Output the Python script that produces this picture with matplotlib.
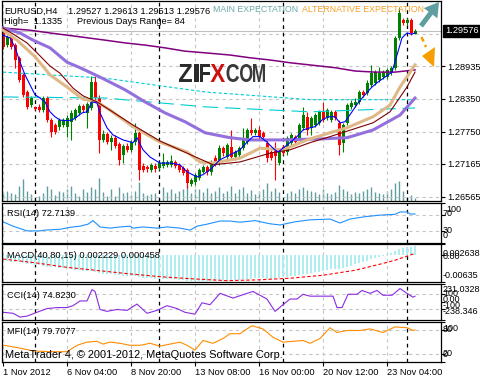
import matplotlib
matplotlib.use('Agg')
import matplotlib.pyplot as plt
import numpy as np
import matplotlib.transforms as mtransforms
from matplotlib.patches import Polygon, FancyArrow, PathPatch
from matplotlib.textpath import TextPath
from matplotlib.font_manager import FontProperties

plt.rcParams['font.family'] = ['Liberation Sans', 'DejaVu Sans']

# EURUSD H4 bars, bar 0 = 1 Nov 2012 16:00 (Sunday bars included)
opens = [1.2963, 1.2932, 1.2947, 1.2932, 1.2909, 1.2878, 1.2847, 1.2823, 1.2820, 1.2820,
         1.2814, 1.2836, 1.2796, 1.2787, 1.2784, 1.2787, 1.2784, 1.2793, 1.2800, 1.2809,
         1.2822, 1.2809, 1.2818, 1.2865, 1.2836, 1.2760, 1.2771, 1.2756, 1.2764, 1.2753,
         1.2733, 1.2749, 1.2742, 1.2756, 1.2773, 1.2713, 1.2711, 1.2706, 1.2713, 1.2709,
         1.2713, 1.2715, 1.2715, 1.2720, 1.2715, 1.2709, 1.2706, 1.2680, 1.2684, 1.2691,
         1.2702, 1.2711, 1.2702, 1.2727, 1.2720, 1.2745, 1.2729, 1.2747, 1.2729, 1.2733,
         1.2745, 1.2756, 1.2778, 1.2773, 1.2778, 1.2773, 1.2755, 1.2738, 1.2742, 1.2718,
         1.2747, 1.2738, 1.2755, 1.2766, 1.2764, 1.2782, 1.2802, 1.2782, 1.2787, 1.2791,
         1.2811, 1.2800, 1.2796, 1.2811, 1.2791, 1.2755, 1.2791, 1.2820, 1.2823, 1.2829,
         1.2847, 1.2845, 1.2860, 1.2863, 1.2869, 1.2874, 1.2874, 1.2881, 1.2891, 1.2945,
         1.2978, 1.2972, 1.2978, 1.29527]
highs = [1.2967, 1.2950, 1.2950, 1.2936, 1.2912, 1.2881, 1.2851, 1.2840, 1.2822, 1.2825,
         1.2840, 1.2840, 1.2800, 1.2791, 1.2800, 1.2800, 1.2805, 1.2814, 1.2818, 1.2825,
         1.2825, 1.2829, 1.2876, 1.2876, 1.2842, 1.2778, 1.2775, 1.2769, 1.2769, 1.2756,
         1.2753, 1.2755, 1.2760, 1.2791, 1.2778, 1.2718, 1.2715, 1.2718, 1.2718, 1.2720,
         1.2736, 1.2724, 1.2733, 1.2724, 1.2718, 1.2713, 1.2709, 1.2691, 1.2700, 1.2709,
         1.2715, 1.2715, 1.2724, 1.2733, 1.2751, 1.2749, 1.2755, 1.2778, 1.2742, 1.2749,
         1.2782, 1.2782, 1.2800, 1.2782, 1.2786, 1.2776, 1.2760, 1.2742, 1.2756, 1.2742,
         1.2751, 1.2767, 1.2773, 1.2769, 1.2791, 1.2820, 1.2811, 1.2804, 1.2809, 1.2814,
         1.2829, 1.2818, 1.2814, 1.2814, 1.2796, 1.2791, 1.2827, 1.2833, 1.2836, 1.2851,
         1.2851, 1.2869, 1.2896, 1.2887, 1.2892, 1.2887, 1.2891, 1.2894, 1.2949, 1.3001,
         1.2981, 1.2981, 1.2981, 1.29613]
lows = [1.2925, 1.2928, 1.2925, 1.2891, 1.2865, 1.2838, 1.2816, 1.2820, 1.2814, 1.2811,
        1.2811, 1.2793, 1.2766, 1.2771, 1.2778, 1.2784, 1.2766, 1.2760, 1.2796, 1.2805,
        1.2811, 1.2782, 1.2814, 1.2833, 1.2736, 1.2756, 1.2753, 1.2742, 1.2745, 1.2715,
        1.2718, 1.2738, 1.2738, 1.2751, 1.2688, 1.2702, 1.2702, 1.2702, 1.2702, 1.2706,
        1.2709, 1.2711, 1.2711, 1.2709, 1.2702, 1.2697, 1.2673, 1.2677, 1.2678, 1.2688,
        1.2700, 1.2697, 1.2697, 1.2713, 1.2715, 1.2731, 1.2724, 1.2724, 1.2724, 1.2729,
        1.2742, 1.2753, 1.2769, 1.2769, 1.2760, 1.2762, 1.2720, 1.2724, 1.2688, 1.2715,
        1.2733, 1.2733, 1.2751, 1.2753, 1.2760, 1.2778, 1.2769, 1.2769, 1.2784, 1.2787,
        1.2793, 1.2796, 1.2793, 1.2796, 1.2733, 1.2738, 1.2787, 1.2816, 1.2820, 1.2825,
        1.2838, 1.2842, 1.2856, 1.2860, 1.2865, 1.2871, 1.2871, 1.2878, 1.2887, 1.2941,
        1.2969, 1.2969, 1.2950, 1.29513]
closes = [1.2928, 1.2947, 1.2928, 1.2905, 1.2869, 1.2842, 1.2820, 1.2836, 1.2816, 1.2814,
          1.2836, 1.2796, 1.2775, 1.2775, 1.2796, 1.2796, 1.2800, 1.2809, 1.2814, 1.2822,
          1.2814, 1.2825, 1.2865, 1.2836, 1.2760, 1.2771, 1.2756, 1.2764, 1.2749, 1.2724,
          1.2749, 1.2742, 1.2756, 1.2773, 1.2706, 1.2706, 1.2707, 1.2715, 1.2707, 1.2718,
          1.2720, 1.2720, 1.2722, 1.2713, 1.2706, 1.2700, 1.2682, 1.2688, 1.2697, 1.2706,
          1.2711, 1.2702, 1.2720, 1.2718, 1.2745, 1.2736, 1.2751, 1.2729, 1.2738, 1.2745,
          1.2764, 1.2778, 1.2773, 1.2778, 1.2766, 1.2766, 1.2727, 1.2727, 1.2731, 1.2738,
          1.2736, 1.2764, 1.2769, 1.2756, 1.2787, 1.2805, 1.2778, 1.2800, 1.2805, 1.2811,
          1.2796, 1.2814, 1.2811, 1.2800, 1.2751, 1.2787, 1.2823, 1.2827, 1.2829, 1.2847,
          1.2842, 1.2863, 1.2881, 1.2883, 1.2881, 1.2883, 1.2887, 1.2891, 1.2945, 1.2990,
          1.2972, 1.2978, 1.2954, 1.29576]
volumes = [2000, 2500, 2000, 1750, 3750, 5500, 2500, 1750, 500, 1250,
           2000, 3750, 3000, 1500, 2500, 2250, 3000, 3750, 2000, 1250,
           3000, 2250, 3500, 3000, 5750, 2250, 1250, 3000, 1250, 3500,
           2000, 2250, 1500, 2500, 4750, 2000, 1500, 1750, 2000, 750,
           3500, 2250, 3000, 2000, 2500, 3000, 4000, 2000, 3000, 3000,
           2250, 3250, 2000, 2500, 3500, 2000, 2500, 3750, 2000, 3000,
           3500, 2000, 2750, 1750, 2500, 3000, 4500, 2500, 3250, 2250,
           500, 2000, 2500, 2000, 3000, 3500, 2750, 2500, 2250, 1750,
           3000, 2000, 1750, 2250, 4000, 3000, 2500, 1750, 2250, 2000,
           2500, 3000, 3500, 2250, 2000, 1750, 2500, 3000, 4500, 5000,
           2500, 1000, 1500, 750]

# moving averages (bar position, price)
blue_bar = [0, 1.75, 3, 4.25, 5.5, 6.75, 8, 9.25, 10.5, 11.75, 13, 14.25, 16, 17.25, 18.5, 19.75,
            21, 22.25, 23.5, 24.25, 26, 27.5, 30, 32.5, 33.5, 35, 36.75, 39.25, 41.75, 44.25, 46,
            48.5, 50, 51.75, 54.25, 56.75, 59.25, 61, 62.5, 64.25, 66, 67.5, 68.75, 70, 71.75,
            73.5, 75, 76.75, 78, 79.75, 81.25, 83, 84.25, 85.5, 87.25, 88.75, 90.5, 92.25, 93.75,
            95.5, 97.25, 98.5, 99.75, 101, 102.25, 103]
blue_val = [1.2950, 1.2945, 1.2928, 1.2901, 1.2878, 1.2860, 1.2842, 1.2836, 1.2829, 1.2811, 1.2802,
            1.2796, 1.2795, 1.2796, 1.2802, 1.2809, 1.2811, 1.2829, 1.2827, 1.2809, 1.2782, 1.2769,
            1.2760, 1.2755, 1.2764, 1.2742, 1.2729, 1.2718, 1.2718, 1.2715, 1.2702, 1.2693, 1.2697,
            1.2706, 1.2724, 1.2733, 1.2742, 1.2756, 1.2766, 1.2766, 1.2756, 1.2745, 1.2738, 1.2745,
            1.2755, 1.2766, 1.2778, 1.2782, 1.2784, 1.2796, 1.2802, 1.2802, 1.2791, 1.2793, 1.2811,
            1.2827, 1.2842, 1.2856, 1.2865, 1.2874, 1.2883, 1.2914, 1.2945, 1.2954, 1.2952, 1.2954]
tan_bar = [0, 3.5, 8, 11.75, 16, 20, 23.5, 26.75, 32.5, 39.25, 46, 49.25, 52.5, 59.25, 64.25,
           70, 76, 81.75, 86, 92.5, 96.75, 99.25, 103]
tan_val = [1.2959, 1.2941, 1.2911, 1.2878, 1.2856, 1.2834, 1.2829, 1.2814, 1.2784, 1.2756, 1.2738,
           1.2720, 1.2718, 1.2727, 1.2745, 1.2742, 1.2760, 1.2773, 1.2782, 1.2802, 1.2823, 1.2856,
           1.2896]
maroon_bar = [0, 3, 6, 8.5, 11.75, 14.25, 17.5, 20, 23.5, 26.75, 32.5, 39.25, 46, 52.5, 59.25,
              66.75, 71.75, 76.75, 81.75, 92.5, 96.75, 101, 103]
maroon_val = [1.2963, 1.2950, 1.2936, 1.2918, 1.2894, 1.2881, 1.2854, 1.2840, 1.2829, 1.2814,
              1.2787, 1.2758, 1.2736, 1.2715, 1.2720, 1.2736, 1.2742, 1.2755, 1.2766, 1.2791,
              1.2811, 1.2856, 1.2883]
lavender_bar = [0, 4.25, 7.5, 11.75, 16, 19.25, 24.25, 30.5, 35.5, 40.5, 45.5, 50.5, 56.75,
                61.75, 70, 80, 86, 92.5, 99.25, 103]
lavender_val = [1.2963, 1.2954, 1.2941, 1.2927, 1.2901, 1.2891, 1.2874, 1.2851, 1.2829, 1.2809,
                1.2793, 1.2773, 1.2764, 1.2760, 1.2760, 1.2762, 1.2764, 1.2778, 1.2805, 1.2836]
purple_bar = [0, 6.75, 11.75, 19.25, 25.5, 30.5, 35.5, 40.5, 45.5, 50.5, 56.75, 61.75, 66.75,
              71.75, 76.75, 83, 88, 93, 98, 103]
purple_val = [1.2963, 1.2959, 1.2954, 1.2947, 1.2941, 1.2936, 1.2932, 1.2927, 1.2921, 1.2918,
              1.2914, 1.2909, 1.2905, 1.2900, 1.2896, 1.2891, 1.2885, 1.2883, 1.2883, 1.2887]
cyan_bar = [0, 25.5, 50.5, 76.75, 103]
cyan_dash_val = [1.2883, 1.2872, 1.2847, 1.2833, 1.2833]
cyan_long_val = [1.2838, 1.2836, 1.2820, 1.2811, 1.2818]

# indicators (bar position, value)
rsi_bar = [0, 2.5, 6, 7.5, 9.25, 10.5, 14.25, 16.75, 19.25, 21.25, 22.5, 23.5, 24.25, 26.75, 29.25,
           31.75, 32.5, 35, 38.5, 41, 44.25, 46.75, 48.5, 51, 54.25, 56.75, 59.25, 63, 66.75,
           69.25, 73, 76.75, 81.75, 84.25, 86.75, 90.5, 94.25, 98, 99.25, 101, 101.75, 103]
rsi_val = [53, 42, 30, 30, 30, 32, 34, 39, 42, 47, 56, 47, 40, 37, 40, 42, 37, 40, 37, 40, 37, 32,
           42, 47, 55, 55, 52, 56, 48, 45, 53, 58, 60, 50, 60, 66, 70, 72, 78, 78, 73, 72.7139]
macd_hist = [-0.0012, -0.0013, -0.0015, -0.0016, -0.0017, -0.0018, -0.0020, -0.0021, -0.0023, -0.0024,
             -0.0025, -0.0027, -0.0028, -0.0029, -0.0030, -0.0031, -0.0033, -0.0034, -0.0035, -0.0036,
             -0.0037, -0.0037, -0.0037, -0.0039, -0.0042, -0.0044, -0.0045, -0.0046, -0.0047, -0.0048,
             -0.0049, -0.0050, -0.0050, -0.0050, -0.0052, -0.0054, -0.0055, -0.0055, -0.0056, -0.0056,
             -0.0056, -0.0057, -0.0057, -0.0058, -0.0059, -0.0060, -0.0061, -0.0062, -0.0063, -0.0063,
             -0.0063, -0.0063, -0.0063, -0.0063, -0.0062, -0.0062, -0.0061, -0.0061, -0.0060, -0.0059,
             -0.0058, -0.0057, -0.0056, -0.0055, -0.0055, -0.0055, -0.0056, -0.0056, -0.0055, -0.0054,
             -0.0053, -0.0052, -0.0051, -0.0050, -0.0048, -0.0046, -0.0045, -0.0043, -0.0041, -0.0039,
             -0.0037, -0.0035, -0.0033, -0.0032, -0.0032, -0.0031, -0.0028, -0.0025, -0.0022, -0.0019,
             -0.0016, -0.0013, -0.0010, -0.0007, -0.0004, -0.0001, 0.0002, 0.0005, 0.0010, 0.0015,
             0.0018, 0.0020, 0.0021, 0.002229]
signal_bar = [0, 8, 16, 24, 32, 40, 48, 56, 64, 72, 80, 88, 94, 98, 103]
signal_val = [-0.0009, -0.0018, -0.0029, -0.0037, -0.0045, -0.0052, -0.0057, -0.0061, -0.0059,
              -0.0055, -0.0048, -0.0036, -0.0022, -0.0012, 0.000458]
cci_bar = [0, 2.5, 4.25, 6, 8.5, 11, 13.5, 16, 17.5, 19.25, 21, 22.25, 23, 24.25, 26, 28.5, 31,
           33.5, 36, 38.5, 41, 43.5, 45.5, 48, 49.75, 51.75, 54.25, 57.5, 61, 62.5, 66, 68, 70,
           71.75, 73.5, 75, 76.75, 78.5, 80.5, 82.5, 83.5, 84.75, 86.25, 88.5, 89.75, 91.75, 93.5,
           95, 97.25, 99.25, 101, 102.5, 103]
cci_val = [-137, -150, -200, -187, -137, -88, -75, -75, -50, 12, 12, 162, 137, -100, -125, -100,
           -112, -29, -150, -112, -50, -88, -137, -162, -12, -37, 112, 50, 112, 137, 37, -125, -37,
           37, 37, 100, 75, 75, 75, 75, -75, -75, 100, 100, 150, 112, 150, 87, 87, 175, 112, 62,
           74.8230]
mfi_bar = [0, 4.25, 7.5, 11.75, 16, 18.5, 21, 23.5, 25, 26.75, 29.25, 31.75, 34.25, 36.75, 39.25,
           41.75, 44.25, 46, 48, 50, 52.5, 55, 56.75, 59.25, 61, 62.25, 65, 67.5, 70, 72.5, 75,
           76.75, 79.25, 81.75, 83.5, 86, 89.25, 91.75, 95, 98, 101, 102.5, 103]
mfi_val = [41.5, 34, 27, 25, 25, 41, 49, 51, 44, 49, 46, 41, 41, 46, 39, 44, 49, 41, 29, 53, 46,
           58, 70, 70, 82, 90, 82, 61, 49, 51, 53, 46, 58, 85, 73, 78, 78, 82, 73, 87, 85, 78, 79.7077]

price_ticks = [1.26565, 1.27165, 1.27750, 1.28350, 1.28935]
price_labels = ['1.26565', '1.27165', '1.27750', '1.28350', '1.28935']
time_ticks = [0, 16, 32, 48, 64, 80, 96]
time_labels = ['1 Nov 2012', '6 Nov 04:00', '8 Nov 20:00', '13 Nov 08:00',
               '16 Nov 00:00', '20 Nov 12:00', '23 Nov 04:00']
week_starts = [8, 39, 70, 101]

W, H = 480, 380
FS = 6.7
GRID = dict(color='#c6c6c6', lw=0.8, ls=(0, (3, 3)), zorder=0.5)
SEP = dict(color='black', lw=0.9, ls=(0, (3, 3)), zorder=0.6)
XLIM = (-0.25, 109.5)

fig = plt.figure(figsize=(W / 100, H / 100), dpi=100)


def rect(top, bottom):
    return [2 / W, 1 - bottom / H, 439 / W, (bottom - top) / H]


def frame(ax):
    for s in ax.spines.values():
        s.set_color('black')
        s.set_linewidth(0.9)
    ax.set_xlim(*XLIM)
    for t in time_ticks:
        ax.axvline(t, **GRID)
    for t in week_starts:
        ax.axvline(t, **SEP)
    ax.yaxis.tick_right()
    ax.tick_params(axis='y', length=3, width=0.8, pad=1.5, labelsize=FS, direction='out')
    ax.tick_params(axis='x', bottom=False, labelbottom=False)


x = np.arange(len(closes))

# volumes behind the price panel
axv = fig.add_axes(rect(1, 201), zorder=1)
axv.vlines(x, 0, volumes, colors='#5f9ea0', lw=1.0)
axv.set_xlim(*XLIM)
axv.set_ylim(0, 50000)
axv.axis('off')

axp = fig.add_axes(rect(1, 201), zorder=2)
axp.patch.set_visible(False)
frame(axp)
axp.set_ylim(1.26492, 1.30120)
axp.set_yticks(price_ticks)
axp.set_yticklabels(price_labels)
for p in price_ticks + [1.29530]:
    axp.axhline(p, **GRID)
axp.axhline(closes[-1], color='#c0c0c0', lw=0.8, zorder=0.7)

o = np.array(opens)
c = np.array(closes)
col = np.where(c >= o, '#008000', '#ff0000')
axp.vlines(x, lows, highs, colors=col, lw=0.8, zorder=2)
axp.bar(x, np.maximum(np.abs(c - o), 0.00005), bottom=np.minimum(o, c), width=0.75,
        color=col, linewidth=0, zorder=2.1)

axp.plot(cyan_bar, cyan_dash_val, color='#00ced1', lw=0.8, ls=(0, (3, 2)), zorder=3)
axp.plot(cyan_bar, cyan_long_val, color='#00ced1', lw=0.8, ls=(0, (14, 6)), zorder=3)
axp.plot(purple_bar, purple_val, color='#800080', lw=1.1, zorder=3)
axp.plot(lavender_bar, lavender_val, color='#9370db', lw=2.2, zorder=3)
axp.plot(tan_bar, tan_val, color='#deb887', lw=2.2, zorder=3)
axp.plot(maroon_bar, maroon_val, color='#800000', lw=0.8, zorder=3.1)
axp.plot(blue_bar, blue_val, color='#0000ff', lw=0.8, zorder=3.2)

trans = mtransforms.blended_transform_factory(axp.transAxes, axp.transData)
axp.text(1 + 4 / 439, closes[-1], f'{closes[-1]:.5f}', transform=trans, color='white',
         fontsize=FS, ha='left', va='center', clip_on=False, zorder=5,
         bbox=dict(boxstyle='square,pad=0.18', fc='black', ec='black'))

# RSI
axr = fig.add_axes(rect(203.3, 242.7))
frame(axr)
axr.set_ylim(0, 100)
axr.set_yticks([0, 30, 70, 100])
axr.set_yticklabels([])
for lv in (30, 70):
    axr.axhline(lv, **GRID)
axr.plot(rsi_bar, rsi_val, color='#1e90ff', lw=0.8)

# MACD
axm = fig.add_axes(rect(244.3, 281.7))
frame(axm)
axm.set_ylim(-0.00635, 0.002638)
axm.set_yticks([-0.00635, 0, 0.002638])
axm.set_yticklabels([])
axm.bar(x, macd_hist, width=0.7, color='#afeeee', linewidth=0)
axm.plot(signal_bar, signal_val, color='#ff0000', lw=0.8, ls=(0, (3, 2)))

# CCI
axc = fig.add_axes(rect(284.3, 320))
frame(axc)
axc.set_ylim(-238.346, 231.0328)
axc.set_yticks([-238.346, -100, 0, 100, 231.0328])
axc.set_yticklabels([])
for lv in (-100, 100):
    axc.axhline(lv, **GRID)
axc.plot(cci_bar, cci_val, color='#8a2be2', lw=0.8)

# MFI
axf = fig.add_axes(rect(321.7, 361.7))
frame(axf)
axf.set_ylim(0, 100)
axf.set_yticks([0, 20, 80, 100])
axf.set_yticklabels([])
for lv in (20, 80):
    axf.axhline(lv, **GRID)
axf.plot(mfi_bar, mfi_val, color='#ff8c00', lw=0.8)
axf.tick_params(axis='x', bottom=True, labelbottom=True, length=3, width=0.8, pad=1.5,
                labelsize=FS)
axf.set_xticks(time_ticks)
axf.set_xticklabels(time_labels, ha='left')

# overlay in pixel coordinates for texts and drawn objects
ov = fig.add_axes([0, 0, 1, 1], zorder=10)
ov.set_xlim(0, W)
ov.set_ylim(H, 0)
ov.axis('off')


def label(xp, yp, s, va='baseline', **kw):
    kw.setdefault('fontsize', FS)
    ov.text(xp, yp, s, ha='left', va=va, **kw)


label(4, 13.5, 'EURUSD,H4')
label(68, 13.5, ' '.join(f'{v:.5f}' for v in (opens[-1], highs[-1], lows[-1], closes[-1])))
label(4, 24.5, 'High=  1.1335')
label(77, 24.5, 'Previous Days Range= 84')
label(213, 11.7, 'MAIN EXPECTATION', color='#6aa9a9', fontsize=6.3)
label(302, 11.7, 'ALTERNATIVE EXPECTATION', color='#f5a028', fontsize=6.3)

label(7, 216.5, f'RSI(14) {rsi_val[-1]:.4f}')
label(7, 258, f'MACD(40,80,15) {macd_hist[-1]:.6f} {signal_val[-1]:.6f}')
label(7, 298, f'CCI(14) {cci_val[-1]:.4f}')
label(7, 334.5, f'MFI(14) {mfi_val[-1]:.4f}')
label(5, 358.5, 'MetaTrader 4, \u00a9 2001-2012, MetaQuotes Software Corp.', fontsize=7.95)

# scale labels of the indicator windows (MT4 draws them overlapping)
for s, xp, yp in [('100', 446, 210), ('70', 443, 213.5), ('30', 443, 230.5), ('0', 443, 236),
                  ('0.002638', 443, 253), ('0.00', 443, 256.5), ('-0.00635', 443, 275.5),
                  ('231.0328', 443, 290), ('100', 443, 294), ('0.00', 443, 300),
                  ('-100', 443, 306), ('-238.346', 443, 311),
                  ('100', 443, 328.5), ('80', 443, 329.5), ('20', 443, 353), ('0', 443, 354.5)]:
    label(xp, yp, s, va='center', fontsize=6.5)

# logo, each letter stretched into its box
fp = FontProperties(family='Liberation Sans', weight='bold')
for ch, x0, x1, colr in [('Z', 179, 192, '#2b2b2b'), ('I', 194, 198.5, '#2b2b2b'),
                         ('F', 200, 210, '#2b2b2b'), ('X', 210.5, 225, '#cc1111'),
                         ('C', 226.5, 239, '#3a3a3a'), ('O', 240, 252.5, '#3a3a3a'),
                         ('M', 253, 265, '#3a3a3a')]:
    tp = TextPath((0, 0), ch, size=1, prop=fp)
    ext = tp.get_extents()
    tr = (mtransforms.Affine2D().translate(-ext.x0, -ext.y0)
          .scale((x1 - x0) / ext.width, -18 / ext.height).translate(x0, 82))
    ov.add_patch(PathPatch(tr.transform_path(tp), color=colr, lw=0))

# expectation arrows
ov.add_patch(FancyArrow(421, 26, 18, -24, width=5, head_width=17, head_length=14,
                        length_includes_head=True, color='#5f9ea0', lw=0))
ov.plot([421.5, 426], [37, 47], color='#f5a000', lw=1.8, ls=(0, (2, 1.5)))
ov.add_patch(Polygon([(435, 47), (422, 56), (434, 67)], closed=True, color='#f5a000', lw=0))

fig.savefig('out.png', dpi=100)
